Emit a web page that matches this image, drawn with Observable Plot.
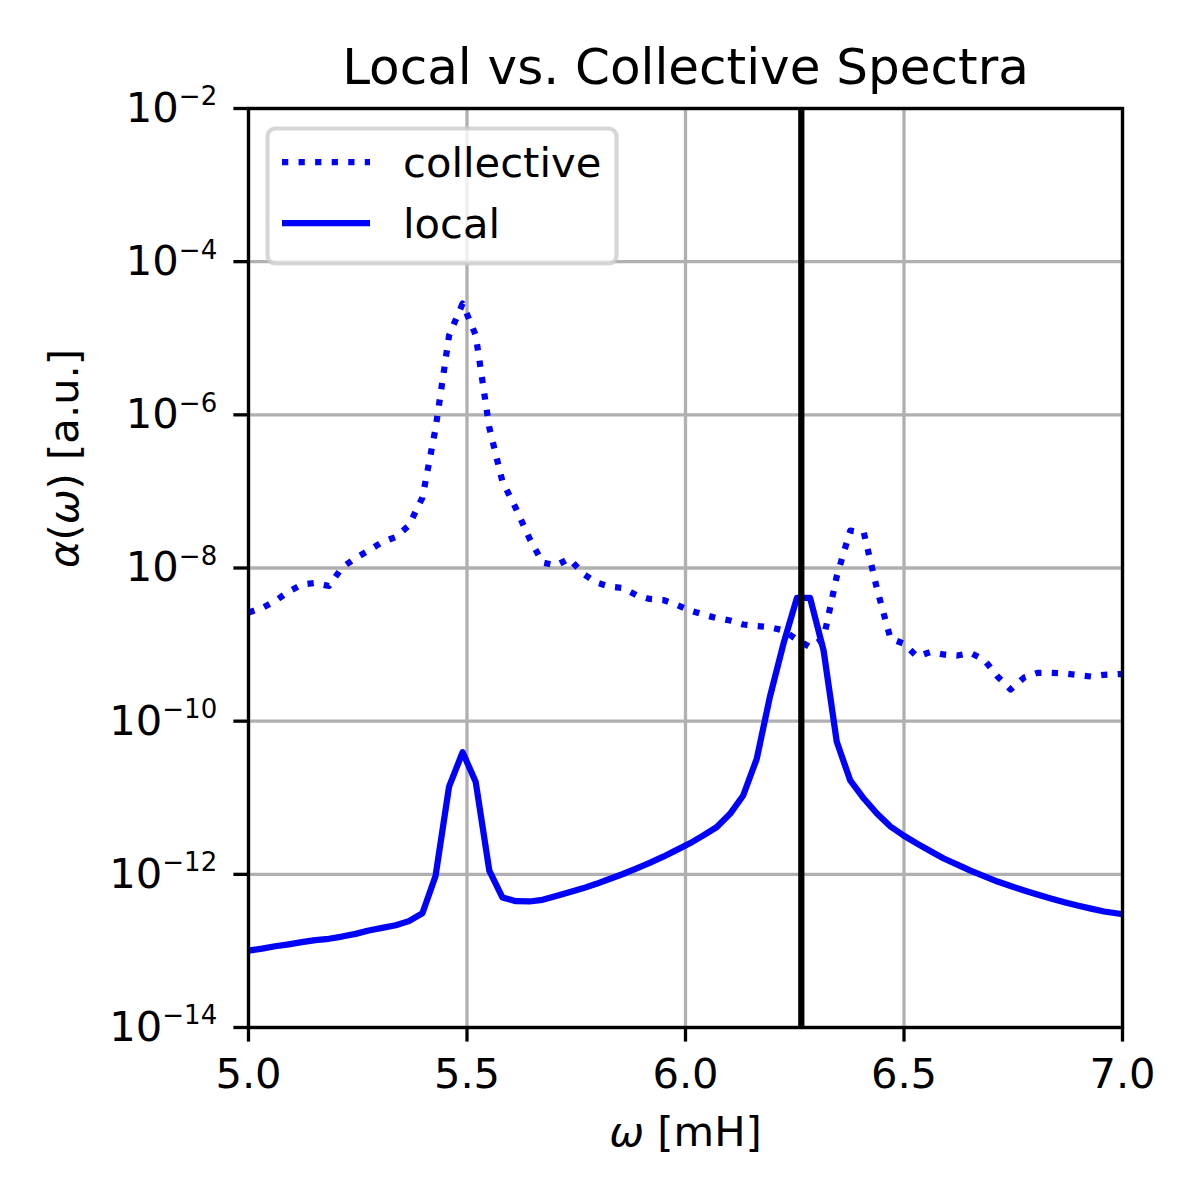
<!DOCTYPE html>
<html>
<head>
<meta charset="utf-8">
<script src="https://cdn.jsdelivr.net/npm/d3@7"></script>
<script src="https://cdn.jsdelivr.net/npm/@observablehq/plot@0.6"></script>
<style>
  html, body { margin: 0; padding: 0; background: #ffffff; }
  #chart { width: 1200px; height: 1200px; }
</style>
</head>
<body>
<div id="chart"></div>
<script>
// ---- data ----
const omega = [5.000, 5.031, 5.061, 5.092, 5.122, 5.153, 5.184, 5.214, 5.245, 5.275,
  5.306, 5.337, 5.367, 5.398, 5.428, 5.459, 5.490, 5.520, 5.551, 5.581,
  5.612, 5.643, 5.673, 5.704, 5.734, 5.765, 5.796, 5.826, 5.857, 5.887,
  5.918, 5.949, 5.979, 6.010, 6.040, 6.071, 6.102, 6.132, 6.163, 6.193,
  6.224, 6.255, 6.285, 6.316, 6.346, 6.377, 6.408, 6.438, 6.469, 6.499,
  6.530, 6.561, 6.591, 6.622, 6.652, 6.683, 6.714, 6.744, 6.775, 6.805,
  6.836, 6.867, 6.897, 6.928, 6.958, 6.989, 7.020];

const collective = [2.62e-9, 3.00e-9, 3.71e-9, 4.93e-9, 6.08e-9, 6.37e-9, 5.82e-9, 1.01e-8, 1.35e-8, 1.69e-8,
  2.18e-8, 2.54e-8, 3.59e-8, 8.32e-8, 6.62e-7, 1.09e-5, 2.84e-5, 1.09e-5, 6.82e-7, 1.35e-7,
  5.98e-8, 2.43e-8, 1.18e-8, 1.08e-8, 1.33e-8, 8.47e-9, 6.46e-9, 5.73e-9, 5.48e-9, 4.44e-9,
  3.94e-9, 3.82e-9, 3.33e-9, 2.79e-9, 2.47e-9, 2.22e-9, 2.06e-9, 1.83e-9, 1.75e-9, 1.69e-9,
  1.53e-9, 1.16e-9, 9.29e-10, 1.20e-9, 7.74e-9, 3.08e-8, 2.90e-8, 5.40e-9, 1.20e-9, 1.03e-9,
  6.98e-10, 8.0e-10, 7.41e-10, 7.19e-10, 7.76e-10, 6.38e-10, 3.83e-10, 2.59e-10, 3.72e-10, 4.26e-10,
  4.28e-10, 4.19e-10, 4.01e-10, 3.83e-10, 4.03e-10, 4.10e-10, 4.13e-10];

const local = [1.01e-13, 1.07e-13, 1.15e-13, 1.22e-13, 1.30e-13, 1.38e-13, 1.44e-13, 1.54e-13, 1.67e-13, 1.85e-13,
  2.00e-13, 2.16e-13, 2.45e-13, 3.10e-13, 9.5e-13, 1.40e-11, 3.93e-11, 1.60e-11, 1.12e-12, 5.0e-13,
  4.46e-13, 4.42e-13, 4.65e-13, 5.21e-13, 5.83e-13, 6.56e-13, 7.52e-13, 8.7e-13, 1.01e-12, 1.19e-12,
  1.41e-12, 1.70e-12, 2.07e-12, 2.54e-12, 3.20e-12, 4.12e-12, 6.17e-12, 1.07e-11, 3.22e-11, 2.06e-10,
  1.02e-9, 4.08e-9, 4.08e-9, 8.36e-10, 5.42e-11, 1.68e-11, 9.77e-12, 6.22e-12, 4.21e-12, 3.21e-12,
  2.52e-12, 2.0e-12, 1.61e-12, 1.34e-12, 1.12e-12, 9.5e-13, 8.05e-13, 7.03e-13, 6.15e-13, 5.45e-13,
  4.83e-13, 4.33e-13, 3.91e-13, 3.57e-13, 3.27e-13, 3.08e-13, 2.90e-13];

const markerLine = [6.265];
const xTicks = [5.0, 5.5, 6.0, 6.5, 7.0];
const xTickLabels = ["5.0", "5.5", "6.0", "6.5", "7.0"];
const yTicks = [1e-14, 1e-12, 1e-10, 1e-8, 1e-6, 1e-4, 1e-2];
const yTickExponents = ["−14", "−12", "−10", "−8", "−6", "−4", "−2"];
const seriesNames = ["collective", "local"];
const titleText = "Local vs. Collective Spectra";
const xLabel = "ω [mH]";
const yLabel = "α(ω) [a.u.]";

// ---- table built from the arrays ----
const rows = omega.map((w, i) => ({omega: w, collective: collective[i], local: local[i]}));

const FONT = "DejaVu Sans";
const fs = 41.67;
const blue = "#0000ff";
const lw = 6.25;

const chart = Plot.plot({
  width: 1200,
  height: 1200,
  marginLeft: 248,
  marginRight: 78,
  marginTop: 108,
  marginBottom: 173,
  style: {fontFamily: FONT, fontSize: fs + "px", background: "#ffffff", color: "#000000"},
  x: {domain: [5, 7]},
  y: {type: "log", domain: [1e-14, 1e-2]},
  marks: [
    Plot.gridX(xTicks, {stroke: "#b0b0b0", strokeOpacity: 1, strokeWidth: 3.3}),
    Plot.gridY(yTicks, {stroke: "#b0b0b0", strokeOpacity: 1, strokeWidth: 3.3}),
    Plot.line(rows, {x: "omega", y: "collective", stroke: blue, strokeWidth: lw,
      strokeDasharray: "6.25,10.31", strokeLinecap: "butt", strokeLinejoin: "round", clip: true}),
    Plot.line(rows, {x: "omega", y: "local", stroke: blue, strokeWidth: lw,
      strokeLinecap: "butt", strokeLinejoin: "round", clip: true}),
    Plot.ruleX(markerLine, {stroke: "#000000", strokeWidth: lw}),
    Plot.frame({stroke: "#000000", strokeWidth: 3.3}),
    Plot.axisX(xTicks, {tickSize: 14.6, tickPadding: 16.8, strokeWidth: 3.3,
      tickFormat: d => xTickLabels[xTicks.indexOf(d)], label: null, fontSize: fs}),
    Plot.axisY(yTicks, {tickSize: 14.6, tickPadding: 16.7, strokeWidth: 3.3,
      tickFormat: d => "10^" + yTickExponents[yTicks.indexOf(d)], label: null, fontSize: fs}),
    Plot.text([titleText], {text: d => d, frameAnchor: "top", dy: -25, lineAnchor: "bottom",
      fontSize: 50, fill: "#000000"}),
    Plot.text([xLabel], {text: d => d, frameAnchor: "bottom", dy: 118, lineAnchor: "bottom",
      fontSize: fs, fill: "#000000"}),
    Plot.text([yLabel], {text: d => d, frameAnchor: "left", dx: -171, rotate: -90,
      lineAnchor: "bottom", fontSize: fs, fill: "#000000"})
  ]
});

document.getElementById("chart").appendChild(chart);

// ---- typographic touches (superscripts, italic math symbols) ----
const NS = "http://www.w3.org/2000/svg";
function setRich(t, parts) {
  while (t.firstChild) t.removeChild(t.firstChild);
  for (const p of parts) {
    const ts = document.createElementNS(NS, "tspan");
    for (const k in (p.attrs || {})) ts.setAttribute(k, p.attrs[k]);
    if (p.attrs && p.attrs["font-style"]) ts.style.fontStyle = p.attrs["font-style"];
    ts.textContent = p.text;
    t.appendChild(ts);
  }
}
chart.querySelectorAll("text").forEach(t => {
  const s = t.textContent;
  if (s.indexOf("10^") === 0) {
    const [base, exp] = s.split("^");
    setRich(t, [{text: base}, {text: exp, attrs: {dy: "-16.5", "font-size": "26"}}]);
  } else if (s === xLabel) {
    setRich(t, [{text: "ω", attrs: {"font-style": "oblique"}}, {text: " [mH]"}]);
  } else if (s === yLabel) {
    setRich(t, [{text: "α", attrs: {"font-style": "oblique"}}, {text: "("},
      {text: "ω", attrs: {"font-style": "oblique"}}, {text: ") [a.u.]"}]);
  }
});

// ---- legend (upper left, inside the axes) ----
const svg = d3.select(chart);
const lg = svg.append("g").attr("aria-label", "legend").attr("text-anchor", "start");
lg.append("rect").attr("x", 267.5).attr("y", 128.5).attr("width", 349).attr("height", 135)
  .attr("rx", 8).attr("fill", "#ffffff").attr("fill-opacity", 0.8)
  .attr("stroke", "#cccccc").attr("stroke-opacity", 0.8).attr("stroke-width", 4.17);
const legendRows = [
  {name: seriesNames[0], y: 162, dash: "6.25,10.31"},
  {name: seriesNames[1], y: 223, dash: null}
];
legendRows.forEach(r => {
  const l = lg.append("line").attr("x1", 282).attr("x2", 370).attr("y1", r.y).attr("y2", r.y)
    .attr("stroke", blue).attr("stroke-width", lw).attr("stroke-linecap", "butt");
  if (r.dash) l.attr("stroke-dasharray", r.dash);
  lg.append("text").attr("x", 403).attr("y", r.y + 14.5).attr("font-family", FONT)
    .attr("text-anchor", "start").attr("font-size", fs).attr("fill", "#000000").text(r.name);
});
</script>
</body>
</html>
